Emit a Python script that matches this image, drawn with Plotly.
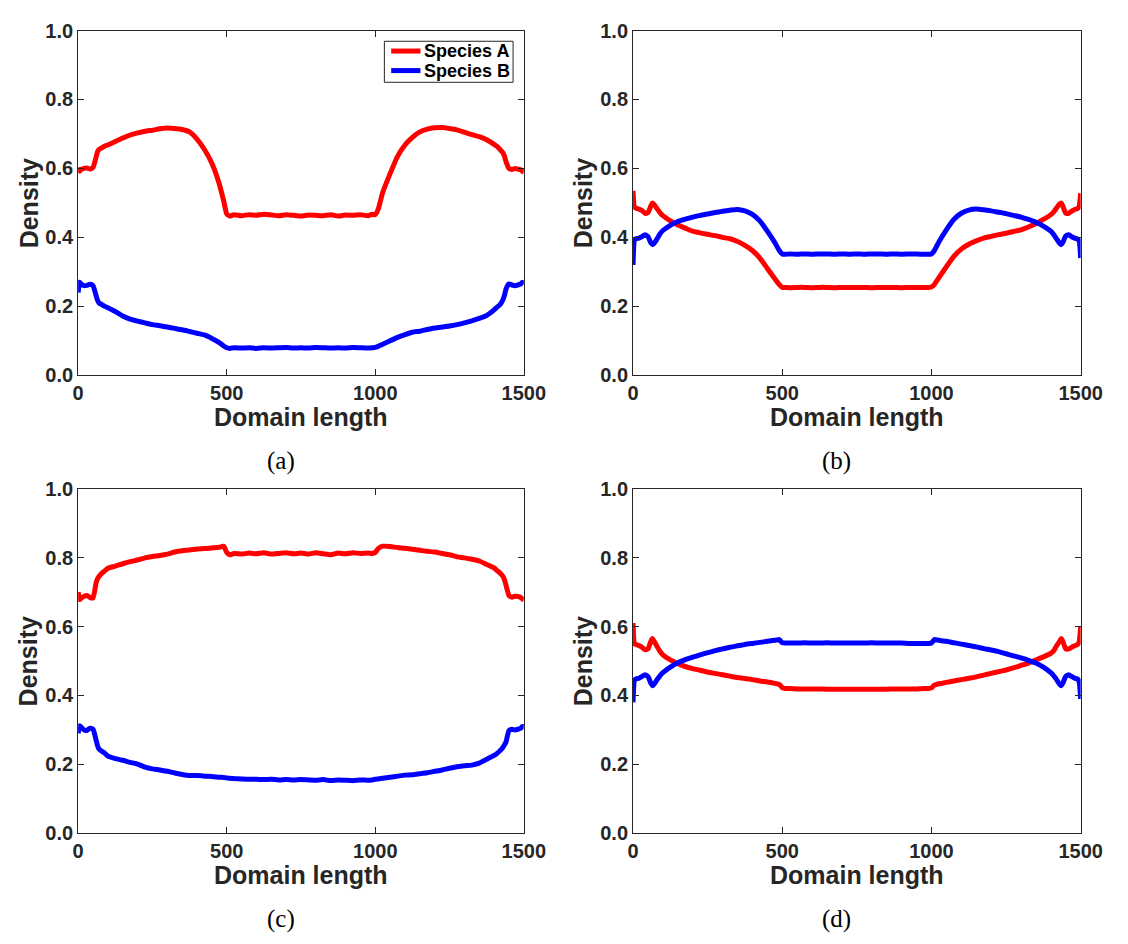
import plotly.graph_objects as go

# Sampling positions along the domain (shared by all four panels)
x_pos = [0, 5, 10, 20, 30, 40, 50, 60, 65, 70,
         80, 90, 100, 125, 150, 175, 200, 225, 250, 275,
         300, 325, 350, 375, 400, 425, 450, 475, 490, 500,
         510, 525, 550, 575, 600, 625, 650, 675, 700, 725,
         750, 775, 800, 825, 850, 875, 900, 925, 950, 975,
         990, 1000, 1010, 1025, 1050, 1075, 1100, 1125, 1150, 1175,
         1200, 1225, 1250, 1275, 1300, 1325, 1350, 1375, 1400, 1410,
         1420, 1430, 1435, 1440, 1450, 1460, 1470, 1480, 1490, 1495,
         1500]

# Panel (a)
dens_a_A = [0.603, 0.592, 0.597, 0.600, 0.601, 0.598, 0.603, 0.632, 0.648, 0.655,
            0.660, 0.665, 0.668, 0.678, 0.688, 0.697, 0.703, 0.708, 0.711, 0.715,
            0.717, 0.716, 0.713, 0.706, 0.685, 0.655, 0.615, 0.555, 0.505, 0.468,
            0.462, 0.466, 0.463, 0.466, 0.464, 0.467, 0.465, 0.463, 0.466, 0.464,
            0.462, 0.465, 0.464, 0.463, 0.466, 0.462, 0.465, 0.464, 0.466, 0.463,
            0.467, 0.466, 0.482, 0.530, 0.585, 0.635, 0.668, 0.690, 0.706, 0.714,
            0.718, 0.719, 0.716, 0.712, 0.705, 0.698, 0.692, 0.683, 0.670, 0.664,
            0.655, 0.645, 0.635, 0.620, 0.600, 0.597, 0.600, 0.598, 0.596, 0.592,
            0.590]
dens_a_B = [0.240, 0.270, 0.265, 0.260, 0.261, 0.264, 0.260, 0.232, 0.218, 0.210,
            0.205, 0.200, 0.196, 0.185, 0.172, 0.163, 0.157, 0.152, 0.147, 0.144,
            0.140, 0.136, 0.132, 0.127, 0.122, 0.117, 0.107, 0.095, 0.085, 0.080,
            0.078, 0.080, 0.079, 0.080, 0.078, 0.080, 0.079, 0.080, 0.081, 0.079,
            0.080, 0.079, 0.081, 0.080, 0.079, 0.080, 0.079, 0.081, 0.080, 0.079,
            0.080, 0.081, 0.084, 0.090, 0.100, 0.110, 0.118, 0.125, 0.128, 0.133,
            0.137, 0.140, 0.143, 0.147, 0.152, 0.158, 0.165, 0.174, 0.190, 0.198,
            0.205, 0.220, 0.232, 0.250, 0.265, 0.262, 0.260, 0.262, 0.265, 0.270,
            0.265]

# Panel (b)
dens_b_A = [0.535, 0.487, 0.485, 0.482, 0.478, 0.470, 0.472, 0.492, 0.500, 0.496,
            0.484, 0.472, 0.463, 0.448, 0.436, 0.427, 0.418, 0.413, 0.409, 0.405,
            0.400, 0.396, 0.388, 0.377, 0.362, 0.340, 0.310, 0.280, 0.263, 0.255,
            0.255, 0.254, 0.255, 0.255, 0.254, 0.255, 0.255, 0.254, 0.255, 0.255,
            0.255, 0.255, 0.254, 0.255, 0.255, 0.255, 0.254, 0.255, 0.255, 0.255,
            0.255, 0.256, 0.264, 0.283, 0.315, 0.345, 0.366, 0.380, 0.390, 0.398,
            0.403, 0.408, 0.412, 0.417, 0.422, 0.430, 0.440, 0.452, 0.466, 0.474,
            0.486, 0.497, 0.500, 0.492, 0.470, 0.470, 0.476, 0.481, 0.484, 0.490,
            0.528]
dens_b_B = [0.320, 0.393, 0.396, 0.398, 0.402, 0.408, 0.402, 0.384, 0.379, 0.382,
            0.395, 0.410, 0.420, 0.435, 0.446, 0.453, 0.459, 0.464, 0.468, 0.472,
            0.476, 0.479, 0.481, 0.477, 0.467, 0.448, 0.418, 0.385, 0.362, 0.352,
            0.351, 0.352, 0.351, 0.352, 0.351, 0.352, 0.352, 0.351, 0.352, 0.351,
            0.352, 0.351, 0.352, 0.352, 0.351, 0.352, 0.351, 0.352, 0.352, 0.351,
            0.351, 0.352, 0.362, 0.387, 0.422, 0.452, 0.470, 0.479, 0.482, 0.480,
            0.477, 0.473, 0.469, 0.464, 0.459, 0.452, 0.444, 0.433, 0.418, 0.408,
            0.395, 0.382, 0.379, 0.385, 0.404, 0.408, 0.402, 0.398, 0.395, 0.390,
            0.340]

# Panel (c)
dens_c_A = [0.700, 0.678, 0.682, 0.688, 0.690, 0.684, 0.683, 0.725, 0.738, 0.745,
            0.755, 0.762, 0.769, 0.775, 0.782, 0.788, 0.793, 0.799, 0.803, 0.806,
            0.810, 0.816, 0.820, 0.822, 0.825, 0.826, 0.828, 0.830, 0.833, 0.815,
            0.808, 0.812, 0.810, 0.813, 0.811, 0.814, 0.810, 0.812, 0.814, 0.811,
            0.813, 0.810, 0.814, 0.811, 0.808, 0.813, 0.811, 0.814, 0.812, 0.813,
            0.812, 0.815, 0.826, 0.833, 0.832, 0.829, 0.827, 0.824, 0.821, 0.818,
            0.816, 0.812, 0.808, 0.802, 0.799, 0.795, 0.790, 0.780, 0.770, 0.762,
            0.755, 0.745, 0.735, 0.720, 0.690, 0.685, 0.688, 0.687, 0.684, 0.680,
            0.678]
dens_c_B = [0.290, 0.312, 0.308, 0.300, 0.299, 0.305, 0.302, 0.272, 0.255, 0.245,
            0.238, 0.232, 0.224, 0.217, 0.212, 0.206, 0.201, 0.192, 0.187, 0.184,
            0.180, 0.175, 0.171, 0.168, 0.168, 0.166, 0.165, 0.163, 0.162, 0.161,
            0.160, 0.159, 0.158, 0.157, 0.157, 0.156, 0.157, 0.155, 0.156, 0.155,
            0.156, 0.155, 0.154, 0.156, 0.153, 0.155, 0.154, 0.153, 0.155, 0.154,
            0.155, 0.157, 0.158, 0.160, 0.163, 0.166, 0.169, 0.170, 0.173, 0.176,
            0.180, 0.184, 0.189, 0.193, 0.196, 0.198, 0.204, 0.215, 0.226, 0.232,
            0.240, 0.250, 0.257, 0.265, 0.298, 0.302, 0.300, 0.302, 0.305, 0.310,
            0.310]

# Panel (d)
dens_d_A = [0.610, 0.550, 0.548, 0.545, 0.540, 0.533, 0.535, 0.558, 0.565, 0.558,
            0.543, 0.528, 0.518, 0.503, 0.492, 0.484, 0.478, 0.473, 0.468, 0.464,
            0.460, 0.456, 0.452, 0.449, 0.446, 0.442, 0.439, 0.435, 0.432, 0.423,
            0.420, 0.420, 0.419, 0.419, 0.419, 0.419, 0.418, 0.418, 0.418, 0.418,
            0.418, 0.418, 0.418, 0.418, 0.418, 0.419, 0.419, 0.419, 0.419, 0.420,
            0.420, 0.422, 0.430, 0.434, 0.438, 0.442, 0.446, 0.450, 0.454, 0.459,
            0.464, 0.469, 0.474, 0.480, 0.487, 0.494, 0.503, 0.512, 0.522, 0.530,
            0.545, 0.558, 0.565, 0.558, 0.535, 0.535, 0.540, 0.544, 0.548, 0.555,
            0.600]
dens_d_B = [0.380, 0.445, 0.448, 0.450, 0.455, 0.460, 0.455, 0.435, 0.428, 0.432,
            0.445, 0.457, 0.466, 0.482, 0.495, 0.504, 0.511, 0.518, 0.524, 0.530,
            0.535, 0.540, 0.544, 0.548, 0.551, 0.554, 0.557, 0.560, 0.562, 0.553,
            0.552, 0.552, 0.552, 0.553, 0.552, 0.552, 0.553, 0.552, 0.552, 0.552,
            0.552, 0.552, 0.553, 0.552, 0.552, 0.552, 0.552, 0.551, 0.551, 0.551,
            0.551, 0.552, 0.562, 0.560, 0.557, 0.553, 0.549, 0.545, 0.541, 0.536,
            0.532, 0.527, 0.521, 0.515, 0.509, 0.502, 0.494, 0.482, 0.466, 0.457,
            0.445, 0.432, 0.428, 0.435, 0.455, 0.460, 0.455, 0.450, 0.448, 0.440,
            0.390]

species_names = ["Species A", "Species B"]
species_colors = ["#ff0000", "#0000ff"]
panel_captions = ["(a)", "(b)", "(c)", "(d)"]
x_ticks = [0, 500, 1000, 1500]
y_ticks = [0.0, 0.2, 0.4, 0.6, 0.8, 1.0]

panels = [(dens_a_A, dens_a_B), (dens_b_A, dens_b_B),
          (dens_c_A, dens_c_B), (dens_d_A, dens_d_B)]

W, H = 1128, 944
# plot-area boxes in pixels: (left, right, top, bottom)
boxes = [(74, 531, 20, 373), (643, 1102, 20, 373),
         (74, 531, 489, 842), (643, 1102, 489, 842)]

ink = "#262626"
tick_font = dict(family="Liberation Sans", size=20, color=ink, weight="bold")
title_font = dict(family="Liberation Sans", size=25, color=ink, weight="bold")
caption_font = dict(family="Liberation Serif", size=25, color="black")


def px_x(v):
    return v / W


def px_y(v):
    return 1 - v / H


fig = go.Figure()
layout = dict(
    width=W, height=H, margin=dict(l=0, r=0, t=0, b=0),
    paper_bgcolor="white", plot_bgcolor="white", showlegend=False,
)
annotations = []
shapes = []

for i, (dA, dB) in enumerate(panels):
    n = "" if i == 0 else str(i + 1)
    xa, ya = "x" + n, "y" + n
    for name, color, vals in zip(species_names, species_colors, (dA, dB)):
        fig.add_trace(go.Scatter(
            x=x_pos, y=vals, mode="lines", name=name,
            line=dict(color=color, width=5, shape="spline", smoothing=0.5),
            xaxis=xa, yaxis=ya,
        ))
    l, r, t, b = boxes[i]
    common = dict(showline=True, linecolor=ink, linewidth=1, mirror="ticks",
                  ticks="inside", ticklen=6, tickcolor=ink, tickwidth=1,
                  showgrid=False, zeroline=False, tickfont=tick_font)
    layout["xaxis" + n] = dict(domain=[px_x(l), px_x(r)], range=[0, 1500],
                               tickvals=x_ticks, anchor=ya, **common)
    layout["yaxis" + n] = dict(domain=[px_y(b), px_y(t)], range=[0, 1],
                               tickvals=y_ticks, tickformat=".1f",
                               anchor=xa, **common)
    cx = (l + r) / 2
    annotations.append(dict(text="Domain length", x=px_x(cx), y=px_y(b + 43),
                            xref="paper", yref="paper", showarrow=False,
                            font=title_font, xanchor="center", yanchor="middle"))
    annotations.append(dict(text="Density", x=px_x(l - 51), y=px_y((t + b) / 2),
                            xref="paper", yref="paper", showarrow=False,
                            textangle=-90, font=title_font,
                            xanchor="center", yanchor="middle"))
    annotations.append(dict(text=panel_captions[i], x=px_x(cx - 21),
                            y=px_y(b + 88), xref="paper", yref="paper",
                            showarrow=False, font=caption_font,
                            xanchor="center", yanchor="middle"))

# Legend box for panel (a): outline, line samples and labels
leg_l, leg_r, leg_t, leg_b = 388, 520, 31, 73
shapes.append(dict(type="rect", xref="paper", yref="paper",
                   x0=px_x(leg_l), x1=px_x(leg_r), y0=px_y(leg_b), y1=px_y(leg_t),
                   line=dict(color=ink, width=1), fillcolor="white", layer="above"))
for k, (name, color) in enumerate(zip(species_names, species_colors)):
    row_y = 41 + 20 * k
    shapes.append(dict(type="line", xref="paper", yref="paper",
                       x0=px_x(395), x1=px_x(425), y0=px_y(row_y), y1=px_y(row_y),
                       line=dict(color=color, width=5), layer="above"))
    annotations.append(dict(text=name, x=px_x(427), y=px_y(row_y),
                            xref="paper", yref="paper", showarrow=False,
                            xanchor="left", yanchor="middle",
                            font=dict(family="Liberation Sans", size=18,
                                      color="black", weight="bold")))

layout["annotations"] = annotations
layout["shapes"] = shapes
fig.update_layout(**layout)
fig.write_html("out.html")
